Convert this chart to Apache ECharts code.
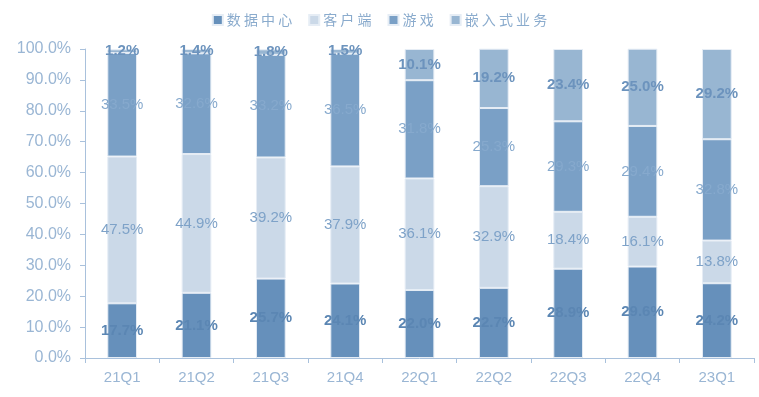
<!DOCTYPE html>
<html>
<head>
<meta charset="utf-8">
<script src="https://cdn.jsdelivr.net/npm/echarts@6/dist/echarts.min.js"></script>
<style>
  html, body { margin: 0; padding: 0; background: #fff; }
  #main { width: 759px; height: 397px; }
</style>
</head>
<body>
<div id="main"></div>
<script>
const quarters = ['21Q1', '21Q2', '21Q3', '21Q4', '22Q1', '22Q2', '22Q3', '22Q4', '23Q1'];
const dataCenter = [17.7, 21.1, 25.7, 24.1, 22.0, 22.7, 28.9, 29.6, 24.2];
const client = [47.5, 44.9, 39.2, 37.9, 36.1, 32.9, 18.4, 16.1, 13.8];
const gaming = [33.5, 32.6, 33.2, 36.5, 31.8, 25.3, 29.3, 29.4, 32.8];
const embedded = [1.2, 1.4, 1.8, 1.5, 10.1, 19.2, 23.4, 25.0, 29.2];

const axisColor = '#a9c1dc';
const textColor = '#9ab6d4';

let myChart = echarts.init(document.getElementById('main'));

// 每个系列的样式
function makeSeries(name, data, color, bold, labelColor) {
  return {
    name: name,
    type: 'bar',
    stack: 'total',
    barWidth: '40%',
    data: data,
    itemStyle: { color: color, borderColor: '#e6edf5', borderWidth: 1 },
    label: {
      show: true,
      position: 'inside',
      formatter: p => p.value.toFixed(1) + '%',
      color: labelColor,
      fontSize: 15,
      fontWeight: bold ? 'bold' : 'normal',
      fontFamily: 'Liberation Sans'
    }
  };
}

myChart.setOption({
  animation: false,
  legend: {
    top: 8,
    left: 'center',
    itemWidth: 10,
    itemHeight: 10,
    itemGap: 16,
    icon: 'rect',
    textStyle: {
      color: '#8aabcd',
      fontSize: 14,
      fontFamily: 'Noto Sans CJK SC',
      padding: [0, 0, 0, -1]
    },
    formatter: name => name.split('').join(' ')
  },
  grid: { left: 85, right: 5, top: 49, bottom: 39 },
  xAxis: {
    type: 'category',
    data: quarters,
    axisLine: { lineStyle: { color: axisColor } },
    axisTick: { show: true, length: 5, lineStyle: { color: axisColor } },
    axisLabel: {
      color: textColor,
      fontSize: 15,
      margin: 12,
      fontFamily: 'Liberation Sans'
    }
  },
  yAxis: {
    type: 'value',
    min: 0,
    max: 100,
    interval: 10,
    axisLine: { show: true, lineStyle: { color: axisColor } },
    axisTick: { show: true, length: 5, lineStyle: { color: axisColor } },
    splitLine: { show: false },
    axisLabel: {
      color: textColor,
      fontSize: 16,
      margin: 14,
      formatter: v => v.toFixed(1) + '%',
      fontFamily: 'Liberation Sans'
    }
  },
  series: [
    makeSeries('数据中心', dataCenter, '#6690bb', true, '#5b86b3'),
    makeSeries('客户端', client, '#cbd9e8', false, '#7ea2c8'),
    makeSeries('游戏', gaming, '#7aa0c6', false, '#86a9cd'),
    makeSeries('嵌入式业务', embedded, '#98b6d2', true, '#6c93bd')
  ]
});

window.addEventListener('resize', () => myChart.resize());
</script>
</body>
</html>
